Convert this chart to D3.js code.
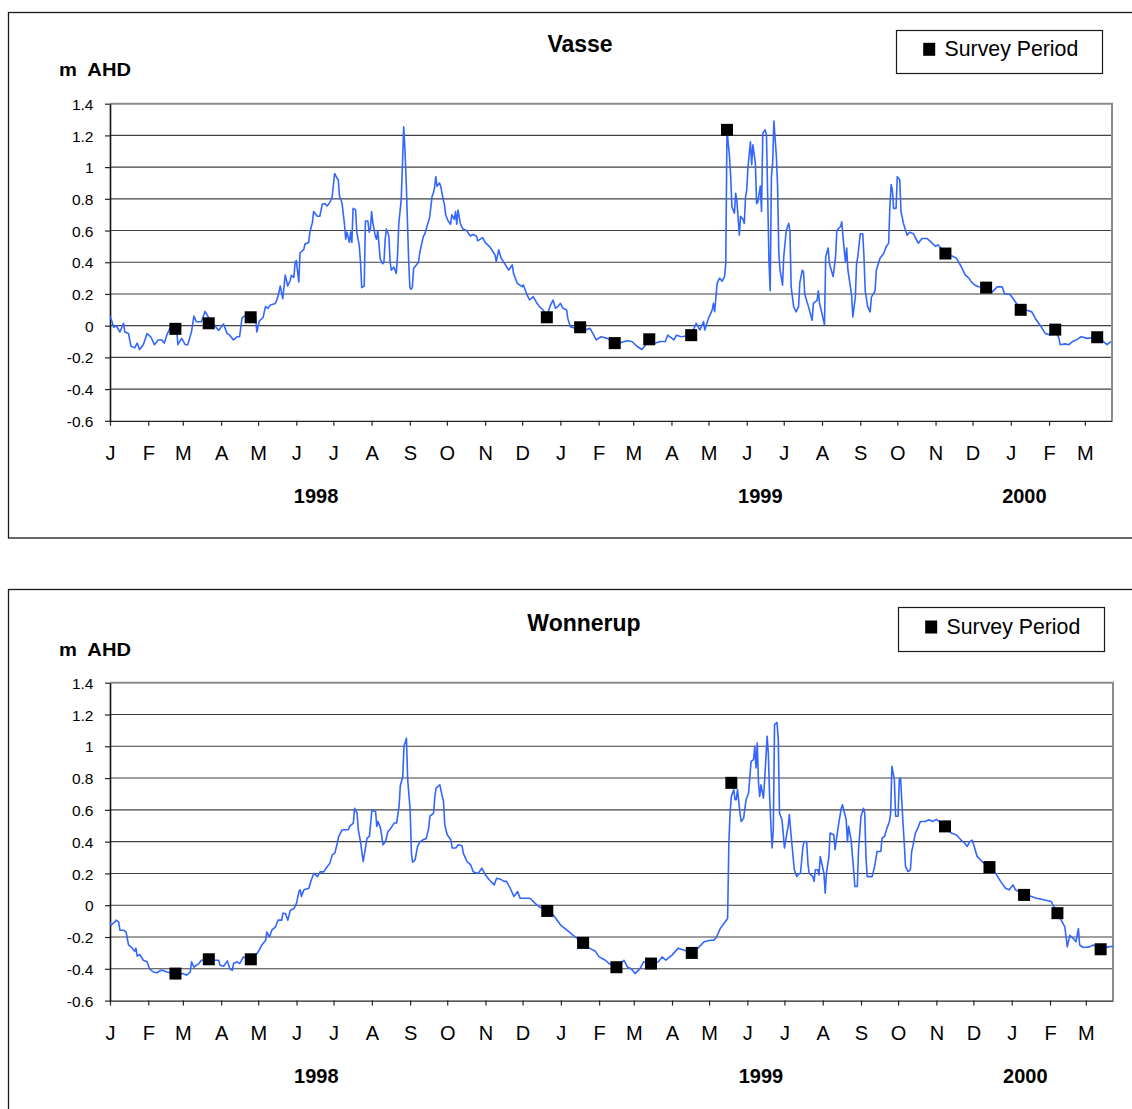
<!DOCTYPE html>
<html><head><meta charset="utf-8">
<script src="https://cdn.jsdelivr.net/npm/d3@7"></script>
<style>
body{margin:0;background:#fff}
svg{display:block}
text{font-family:"Liberation Sans",Arial,Helvetica,sans-serif}
</style>
</head><body>
<svg id="chart" width="1132" height="1109"></svg>
<script>
// ---------------- DATA ----------------
const recordStart = "1998-01-01";
const recordEnd = "2000-03-23";
const monthTickLabels = ["J","F","M","A","M","J","J","A","S","O","N","D",
                         "J","F","M","A","M","J","J","A","S","O","N","D",
                         "J","F","M"];
const yTickValues = [-0.6,-0.4,-0.2,0,0.2,0.4,0.6,0.8,1,1.2,1.4];
const yearLabels = ["1998","1999","2000"];
const yearLabelDates = ["1998-06-17","1999-06-12","2000-01-12"];
const panelTitles = ["Vasse","Wonnerup"];
const axisTitle = "m  AHD";
const legendLabel = "Survey Period";

// water level [day since 1998-01-01, m AHD]
const vasseLevel = [[0,0.06],[1,0.04],[3,-0.01],[5,0],[8,-0.04],[11,0.015],[12,-0.04],[15,-0.05],[17,-0.13],[20,-0.14],[22,-0.11],[24,-0.15],[27,-0.12],[30,-0.05],[33,-0.07],[36,-0.12],[39,-0.09],[42,-0.09],[44,-0.11],[46,-0.06],[49,-0.01],[54,-0.01],[55,-0.12],[58,-0.08],[61,-0.12],[63,-0.12],[66,-0.04],[68,0.06],[70,0.025],[74,0.025],[77,0.09],[80,0.05],[84,0.01],[88,-0.03],[92,0.01],[95,-0.05],[97,-0.06],[100,-0.09],[103,-0.07],[105,-0.07],[107,0.05],[109,0.06],[112,0.06],[118,0.05],[119,-0.04],[121,0.03],[124,0.05],[126,0.12],[128,0.11],[130,0.13],[134,0.14],[136,0.18],[138,0.25],[140,0.17],[142,0.32],[144,0.25],[146,0.285],[147,0.317],[149,0.305],[150,0.4],[151,0.41],[153,0.275],[154,0.46],[157,0.48],[158,0.515],[161,0.525],[162,0.59],[164,0.65],[165,0.72],[168,0.69],[170,0.69],[172,0.765],[174,0.77],[176,0.755],[178,0.775],[180,0.81],[182,0.96],[184,0.93],[185,0.92],[186,0.815],[188,0.775],[190,0.64],[191,0.545],[192,0.59],[194,0.525],[195,0.59],[196,0.525],[197,0.74],[199,0.73],[200,0.59],[202,0.505],[203,0.4],[204,0.24],[206,0.25],[207,0.66],[209,0.66],[210,0.59],[211,0.61],[212,0.72],[213,0.65],[215,0.565],[216,0.545],[217,0.6],[219,0.42],[221,0.39],[222,0.4],[223,0.545],[224,0.61],[226,0.565],[227,0.4],[228,0.35],[230,0.37],[232,0.33],[233,0.44],[234,0.64],[236,0.795],[237,1.015],[238,1.255],[239,1.11],[240,0.92],[242,0.42],[243,0.24],[244,0.23],[245,0.24],[246,0.36],[250,0.4],[251,0.46],[254,0.565],[255,0.575],[257,0.63],[259,0.68],[261,0.815],[262,0.835],[263,0.87],[264,0.94],[265,0.88],[267,0.9],[268,0.88],[270,0.795],[271,0.765],[272,0.7],[274,0.66],[276,0.64],[277,0.7],[279,0.67],[280,0.72],[281,0.64],[282,0.73],[284,0.64],[286,0.61],[289,0.6],[292,0.565],[294,0.575],[297,0.565],[298,0.535],[302,0.555],[304,0.525],[308,0.495],[312,0.446],[313,0.404],[315,0.478],[317,0.425],[320,0.39],[323,0.35],[326,0.383],[327,0.33],[330,0.267],[334,0.246],[335,0.257],[338,0.194],[340,0.162],[343,0.183],[346,0.141],[348,0.12],[351,0.099],[354,0.06],[357,0.13],[359,0.162],[361,0.11],[363,0.12],[365,0.141],[367,0.11],[370,0.1],[371,0.046],[373,-0.006],[377,-0.017],[381,-0.01],[385,-0.027],[389,-0.017],[392,-0.06],[394,-0.09],[398,-0.07],[403,-0.08],[409,-0.11],[413,-0.11],[419,-0.095],[423,-0.1],[427,-0.13],[431,-0.15],[437,-0.09],[442,-0.11],[446,-0.1],[450,-0.1],[452,-0.06],[457,-0.09],[459,-0.06],[463,-0.07],[471,-0.06],[475,0.015],[478,-0.027],[481,0.025],[482,-0.027],[485,0.046],[488,0.1],[489,0.141],[490,0.088],[492,0.267],[494,0.3],[496,0.28],[498,0.31],[499,0.39],[500,1.24],[501,1.15],[502,1.07],[503,0.94],[504,0.75],[506,0.71],[507,0.835],[508,0.79],[510,0.57],[511,0.69],[513,0.67],[514,0.645],[515,0.81],[516,0.857],[517,1.0],[519,1.16],[520,1.015],[521,1.14],[523,1.025],[524,0.77],[525,0.78],[527,0.88],[528,0.72],[529,1.215],[531,1.235],[532,1.2],[533,0.81],[534,0.41],[535,0.22],[536,0.94],[537,1.025],[538,1.29],[540,1.07],[541,0.88],[542,0.455],[543,0.35],[545,0.255],[546,0.435],[548,0.6],[550,0.645],[551,0.6],[552,0.245],[554,0.12],[556,0.087],[558,0.12],[559,0.27],[561,0.35],[562,0.34],[563,0.2],[566,0.12],[569,0.034],[570,0.14],[573,0.16],[574,0.22],[575,0.14],[577,0.076],[579,0.005],[580,0.435],[582,0.49],[583,0.39],[586,0.31],[588,0.435],[589,0.6],[592,0.625],[593,0.655],[594,0.56],[596,0.4],[597,0.49],[598,0.35],[600,0.245],[601,0.19],[602,0.055],[604,0.18],[605,0.39],[606,0.435],[608,0.58],[610,0.58],[611,0.435],[612,0.22],[614,0.12],[616,0.087],[617,0.18],[620,0.22],[621,0.35],[624,0.425],[627,0.455],[629,0.5],[631,0.52],[632,0.75],[633,0.89],[634,0.857],[635,0.74],[637,0.74],[638,0.94],[640,0.92],[641,0.72],[643,0.645],[646,0.57],[648,0.59],[651,0.58],[655,0.52],[658,0.55],[662,0.55],[665,0.53],[669,0.5],[671,0.51],[677,0.455],[681,0.445],[686,0.425],[690,0.37],[693,0.32],[696,0.3],[698,0.276],[701,0.255],[704,0.245],[710,0.24],[715,0.213],[719,0.245],[723,0.245],[725,0.2],[729,0.2],[732,0.17],[738,0.1],[743,0.097],[747,0.087],[750,0.044],[754,0.0],[758,-0.05],[762,-0.058],[766,-0.023],[769,-0.08],[770,-0.12],[774,-0.115],[777,-0.12],[780,-0.1],[783,-0.09],[787,-0.07],[792,-0.08],[800,-0.073],[805,-0.1],[808,-0.12],[811,-0.1]];

const vasseSurvey = [[53,-0.02],[80,0.015],[114,0.053],[354,0.053],[381,-0.01],[409,-0.11],[437,-0.086],[471,-0.06],[500,1.235],[677,0.455],[710,0.24],[738,0.1],[766,-0.025],[800,-0.073]];

const wonnerupLevel = [[0,-0.105],[1,-0.126],[3,-0.11],[4,-0.105],[5,-0.094],[7,-0.105],[8,-0.157],[11,-0.157],[13,-0.168],[15,-0.25],[18,-0.27],[20,-0.29],[21,-0.27],[22,-0.32],[24,-0.31],[27,-0.346],[30,-0.356],[32,-0.4],[35,-0.42],[38,-0.425],[41,-0.41],[43,-0.41],[46,-0.42],[49,-0.425],[53,-0.43],[57,-0.434],[59,-0.43],[62,-0.44],[65,-0.42],[66,-0.356],[68,-0.39],[70,-0.377],[72,-0.367],[74,-0.346],[80,-0.34],[85,-0.346],[88,-0.346],[89,-0.377],[92,-0.384],[95,-0.35],[97,-0.4],[99,-0.41],[100,-0.367],[103,-0.356],[105,-0.367],[108,-0.325],[114,-0.34],[119,-0.304],[120,-0.293],[123,-0.25],[126,-0.22],[127,-0.168],[129,-0.2],[131,-0.157],[134,-0.136],[136,-0.094],[139,-0.094],[140,-0.05],[142,-0.052],[144,-0.094],[146,-0.031],[149,-0.02],[151,0.013],[153,0.086],[154,0.097],[155,0.055],[157,0.097],[161,0.107],[163,0.16],[165,0.2],[168,0.18],[170,0.21],[173,0.21],[176,0.244],[178,0.265],[180,0.317],[182,0.328],[184,0.39],[185,0.43],[188,0.475],[190,0.475],[193,0.475],[194,0.496],[197,0.517],[198,0.61],[200,0.58],[201,0.475],[203,0.39],[204,0.328],[205,0.275],[207,0.37],[208,0.42],[210,0.433],[212,0.597],[215,0.59],[216,0.496],[217,0.527],[219,0.485],[220,0.433],[221,0.38],[223,0.4],[225,0.464],[227,0.48],[230,0.517],[232,0.517],[234,0.62],[235,0.75],[237,0.81],[238,1.0],[240,1.05],[241,0.79],[243,0.6],[244,0.328],[245,0.27],[247,0.286],[249,0.37],[251,0.4],[253,0.41],[256,0.42],[258,0.485],[259,0.56],[262,0.58],[263,0.685],[264,0.737],[267,0.758],[269,0.685],[270,0.653],[271,0.506],[273,0.443],[276,0.41],[277,0.36],[280,0.36],[282,0.38],[285,0.374],[286,0.328],[289,0.275],[292,0.254],[294,0.21],[298,0.2],[301,0.233],[304,0.19],[307,0.16],[311,0.128],[313,0.17],[316,0.164],[319,0.15],[321,0.15],[324,0.107],[327,0.055],[330,0.086],[332,0.044],[340,0.044],[344,0.013],[347,-0.008],[354,-0.036],[359,-0.063],[362,-0.094],[365,-0.126],[370,-0.157],[375,-0.19],[383,-0.237],[388,-0.27],[393,-0.29],[396,-0.325],[401,-0.346],[404,-0.367],[410,-0.39],[416,-0.346],[419,-0.39],[422,-0.4],[425,-0.43],[429,-0.4],[432,-0.356],[438,-0.367],[444,-0.356],[447,-0.325],[450,-0.346],[455,-0.314],[460,-0.27],[465,-0.283],[471,-0.3],[476,-0.27],[481,-0.23],[486,-0.22],[489,-0.22],[491,-0.2],[494,-0.147],[497,-0.115],[500,-0.084],[501,0.39],[502,0.58],[503,0.685],[505,0.727],[506,0.664],[507,0.664],[508,0.727],[510,0.58],[511,0.527],[513,0.548],[514,0.61],[515,0.664],[517,0.706],[519,0.905],[521,0.916],[522,1.0],[523,0.863],[524,1.02],[525,0.77],[526,0.685],[527,0.758],[529,0.674],[530,0.79],[532,1.063],[533,0.947],[534,0.685],[535,0.517],[536,0.36],[537,0.475],[538,1.136],[540,1.15],[541,1.04],[542,0.58],[544,0.538],[545,0.454],[546,0.36],[548,0.454],[549,0.496],[550,0.57],[551,0.475],[552,0.39],[554,0.223],[556,0.18],[558,0.2],[559,0.2],[561,0.37],[562,0.4],[564,0.4],[565,0.265],[566,0.2],[569,0.18],[570,0.15],[571,0.223],[573,0.223],[574,0.19],[575,0.307],[578,0.2],[579,0.076],[580,0.2],[582,0.307],[583,0.454],[586,0.443],[587,0.35],[588,0.41],[590,0.517],[592,0.61],[593,0.632],[594,0.6],[596,0.538],[597,0.4],[598,0.496],[599,0.454],[600,0.41],[602,0.223],[603,0.118],[605,0.118],[606,0.35],[608,0.56],[610,0.61],[611,0.58],[612,0.307],[613,0.18],[617,0.18],[619,0.244],[621,0.338],[624,0.338],[625,0.42],[627,0.433],[629,0.485],[631,0.527],[632,0.58],[633,0.874],[635,0.79],[636,0.56],[638,0.56],[639,0.79],[640,0.8],[642,0.517],[643,0.39],[644,0.244],[646,0.212],[648,0.223],[649,0.338],[650,0.37],[652,0.454],[654,0.485],[656,0.527],[660,0.527],[663,0.538],[666,0.527],[669,0.54],[671,0.527],[676,0.496],[681,0.454],[685,0.443],[689,0.41],[692,0.39],[694,0.37],[696,0.4],[698,0.41],[700,0.36],[702,0.307],[706,0.275],[712,0.24],[717,0.2],[721,0.15],[725,0.107],[728,0.097],[731,0.128],[733,0.097],[740,0.065],[746,0.055],[750,0.044],[756,0.034],[762,0.023],[764,-0.008],[767,-0.048],[770,-0.094],[773,-0.136],[775,-0.262],[777,-0.19],[780,-0.21],[782,-0.23],[784,-0.147],[785,-0.25],[788,-0.266],[793,-0.262],[796,-0.25],[802,-0.277],[808,-0.262],[812,-0.258]];

const wonnerupSurvey = [[53,-0.43],[80,-0.34],[114,-0.34],[354,-0.036],[383,-0.237],[410,-0.39],[438,-0.367],[471,-0.3],[503,0.77],[676,0.496],[712,0.24],[740,0.065],[767,-0.05],[802,-0.277]];

// ---------------- DRAW ----------------
const svg = d3.select("#chart");
const parseDay = d3.utcParse("%Y-%m-%d");
const t0 = parseDay(recordStart);
const toDate = d => d3.utcDay.offset(t0, d);
const fmtY = v => String(+v.toFixed(1));

const panels = [
  {title: panelTitles[0], level: vasseLevel, survey: vasseSurvey,
   boxTop: 12.5, boxBottom: 538, left: 110, right: 1112, top: 103.7, bottom: 420.8,
   titleX: 580, titleY: 52, unitY: 76,
   legend: {x: 896.5, y: 30.5, w: 206, h: 43, mx: 929.2, my: 49.3, tx: 944.5, ty: 56}},
  {title: panelTitles[1], level: wonnerupLevel, survey: wonnerupSurvey,
   boxTop: 589.5, boxBottom: 1140, left: 110, right: 1113, top: 682.7, bottom: 1000.6,
   titleX: 584, titleY: 631, unitY: 656,
   legend: {x: 898.5, y: 607.5, w: 206, h: 44, mx: 931.2, my: 627, tx: 946.5, ty: 634}}
];

panels.forEach(p => {
  const g = svg.append("g");
  // outer frame
  g.append("rect")
    .attr("x", 8.5).attr("y", p.boxTop)
    .attr("width", 1140).attr("height", p.boxBottom - p.boxTop)
    .attr("fill", "none").attr("stroke", "#1a1a1a").attr("stroke-width", 1.3);

  const x = d3.scaleUtc().domain([t0, parseDay(recordEnd)]).range([p.left, p.right]);
  const y = d3.scaleLinear().domain([-0.6, 1.4]).range([p.bottom, p.top]);

  // gridlines
  g.append("g").selectAll("line")
    .data(yTickValues.filter(v => v > -0.6 && v < 1.4))
    .join("line")
    .attr("x1", p.left).attr("x2", p.right)
    .attr("y1", d => y(d)).attr("y2", d => y(d))
    .attr("stroke", "#404040").attr("stroke-width", 1.1);

  // plot area frame (top + right, grey)
  g.append("path")
    .attr("d", `M${p.left},${y(1.4)}H${p.right}V${y(-0.6)}`)
    .attr("fill", "none").attr("stroke", "#8c8c8c").attr("stroke-width", 2);

  // x axis
  const months = d3.utcMonth.range(t0, parseDay(recordEnd));
  const xAxis = g.append("g")
    .attr("transform", `translate(0,${y(-0.6)})`)
    .call(d3.axisBottom(x).tickValues(months).tickSize(5).tickSizeOuter(0)
      .tickFormat((d, i) => monthTickLabels[i]));
  xAxis.select(".domain").attr("stroke", "#222").attr("stroke-width", 1.3);
  xAxis.selectAll(".tick line").attr("stroke", "#222").attr("stroke-width", 1.2);
  xAxis.selectAll(".tick text")
    .attr("y", 39).attr("dy", 0)
    .attr("font-size", 20).attr("fill", "#000")
    .style("font-family", '"Liberation Sans",Arial,sans-serif');

  // y axis
  const yAxis = g.append("g")
    .attr("transform", `translate(${p.left},0)`)
    .call(d3.axisLeft(y).tickValues(yTickValues).tickSize(5).tickSizeOuter(0).tickFormat(fmtY));
  yAxis.select(".domain").attr("stroke", "#111").attr("stroke-width", 1.6);
  yAxis.selectAll(".tick line").attr("stroke", "#222").attr("stroke-width", 1.2);
  yAxis.selectAll(".tick text")
    .attr("x", -16.5).attr("dy", "0.36em")
    .attr("font-size", 15.5).attr("fill", "#000")
    .style("font-family", '"Liberation Sans",Arial,sans-serif');

  // series line
  const line = d3.line().x(d => x(toDate(d[0]))).y(d => y(d[1]));
  g.append("path").datum(p.level)
    .attr("d", line)
    .attr("fill", "none").attr("stroke", "#3366ff")
    .attr("stroke-width", 1.6).attr("stroke-linejoin", "round");

  // survey markers
  g.append("g").selectAll("rect")
    .data(p.survey).join("rect")
    .attr("x", d => x(toDate(d[0])) - 6).attr("y", d => y(d[1]) - 6)
    .attr("width", 12).attr("height", 12).attr("fill", "#000");

  // year labels
  g.append("g").selectAll("text")
    .data(yearLabels).join("text")
    .attr("x", (d, i) => x(parseDay(yearLabelDates[i])))
    .attr("y", y(-0.6) + 82)
    .attr("text-anchor", "middle")
    .attr("font-size", 20).attr("font-weight", "bold")
    .text(d => d);

  // title
  g.append("text")
    .attr("x", p.titleX).attr("y", p.titleY)
    .attr("text-anchor", "middle")
    .attr("font-size", 23).attr("font-weight", "bold")
    .text(p.title);

  // unit label
  g.append("text")
    .attr("x", 59).attr("y", p.unitY)
    .attr("font-size", 18.5).attr("font-weight", "bold")
    .attr("textLength", 72).attr("lengthAdjust", "spacingAndGlyphs")
    .style("white-space", "pre")
    .text(axisTitle);

  // legend
  const L = p.legend;
  g.append("rect")
    .attr("x", L.x).attr("y", L.y).attr("width", L.w).attr("height", L.h)
    .attr("fill", "#fff").attr("stroke", "#1a1a1a").attr("stroke-width", 1.2);
  g.append("rect")
    .attr("x", L.mx - 6).attr("y", L.my - 6.5).attr("width", 12).attr("height", 13)
    .attr("fill", "#000");
  g.append("text")
    .attr("x", L.tx).attr("y", L.ty)
    .attr("font-size", 21.3)
    .text(legendLabel);
});
</script>
</body></html>
